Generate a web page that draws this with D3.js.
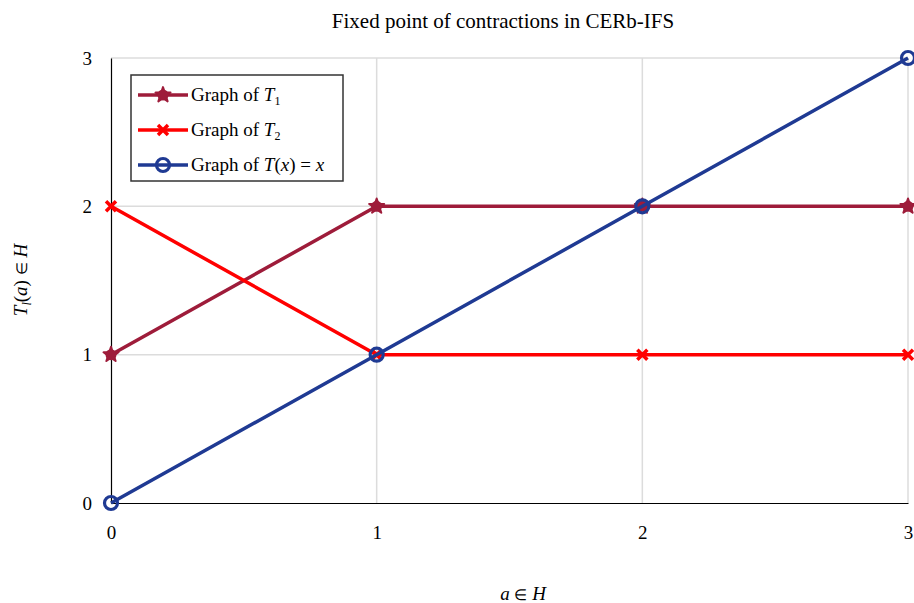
<!DOCTYPE html>
<html>
<head>
<meta charset="utf-8">
<script src="https://cdn.jsdelivr.net/npm/d3@7"></script>
<style>
  body { margin: 0; background: #fff; }
  text { font-family: "Liberation Serif", "Times New Roman", serif; fill: #000; }
</style>
</head>
<body>
<svg width="914" height="603"></svg>
<script>
// data
var xValues = [0, 1, 2, 3];
var t1Values = [1, 2, 2, 2];
var t2Values = [2, 1, 1, 1];
var idValues = [0, 1, 2, 3];
var xTicks = [0, 1, 2, 3];
var yTicks = [0, 1, 2, 3];

var svg = d3.select("svg"),
    margin = {left: 111, right: 6, top: 58, bottom: 100},
    width = 914 - margin.left - margin.right,
    height = 603 - margin.top - margin.bottom;

var x = d3.scaleLinear().domain([0, 3]).range([margin.left, margin.left + width]);
var y = d3.scaleLinear().domain([0, 3]).range([margin.top + height, margin.top]);

// grid
svg.append("g").selectAll("line")
    .data(xTicks.slice(1))
    .enter().append("line")
    .attr("x1", d => x(d)).attr("x2", d => x(d))
    .attr("y1", y(0)).attr("y2", y(3))
    .style("stroke", "#dcdcdc").style("stroke-width", 1.5);

svg.append("g").selectAll("line")
    .data(yTicks.slice(1))
    .enter().append("line")
    .attr("x1", x(0)).attr("x2", x(3))
    .attr("y1", d => y(d)).attr("y2", d => y(d))
    .style("stroke", "#dcdcdc").style("stroke-width", 1.5);

// axes
var xAxis = svg.append("g")
    .attr("transform", "translate(0," + y(0) + ")")
    .call(d3.axisBottom(x).tickValues(xTicks).tickSize(0).tickPadding(23).tickFormat(d3.format("d")));
var yAxis = svg.append("g")
    .attr("transform", "translate(" + x(0) + ",0)")
    .call(d3.axisLeft(y).tickValues(yTicks).tickSize(0).tickPadding(19).tickFormat(d3.format("d")));

[xAxis, yAxis].forEach(function(a) {
    a.select(".domain").style("stroke", "#000").style("stroke-width", 1.2);
    a.selectAll("text").style("font-size", "19px").style("font-family", "'Liberation Serif', serif");
});

// series
var series = [
    {name: "t1", values: t1Values, color: "#9e1c3a", marker: "burst"},
    {name: "t2", values: t2Values, color: "#ff0000", marker: "x"},
    {name: "id", values: idValues, color: "#1f3a93", marker: "circle"}
];

var line = d3.line()
    .x((d, i) => x(xValues[i]))
    .y(d => y(d));

function drawMarker(g, type, color) {
    if (type === "burst") {
        g.append("path")
            .attr("d", d3.symbol().type(d3.symbolStar).size(70))
            .style("fill", color).style("stroke", color).style("stroke-width", 2).style("stroke-linejoin", "round");
        g.append("circle").attr("r", 5.5).style("fill", color);
    } else if (type === "x") {
        g.append("path")
            .attr("d", "M-5,-5L5,5M-5,5L5,-5")
            .style("stroke", color).style("stroke-width", 3.5).style("fill", "none");
    } else {
        g.append("circle").attr("r", 6.5)
            .style("fill", "none").style("stroke", color).style("stroke-width", 3.2);
    }
}

series.forEach(function(s) {
    svg.append("path")
        .datum(s.values)
        .attr("d", line)
        .style("fill", "none")
        .style("stroke", s.color)
        .style("stroke-width", 3.5);

    s.values.forEach(function(v, i) {
        var g = svg.append("g").attr("transform", "translate(" + x(xValues[i]) + "," + y(v) + ")");
        drawMarker(g, s.marker, s.color);
    });
});

// title
svg.append("text")
    .attr("x", 503).attr("y", 28)
    .attr("text-anchor", "middle")
    .style("font-size", "21px")
    .text("Fixed point of contractions in CERb-IFS");

// axis titles
var xt = svg.append("text")
    .attr("x", 523).attr("y", 600)
    .attr("text-anchor", "middle")
    .style("font-size", "19px");
xt.append("tspan").style("font-style", "italic").text("a");
xt.append("tspan").text(" ");
xt.append("tspan").style("font-size", "15px").text("\u2208");
xt.append("tspan").text(" ");
xt.append("tspan").style("font-style", "italic").text("H");

var yt = svg.append("text")
    .attr("transform", "translate(27,280) rotate(-90)")
    .attr("text-anchor", "middle")
    .style("font-size", "19px");
yt.append("tspan").style("font-style", "italic").text("T");
yt.append("tspan").style("font-style", "italic").style("font-size", "12px").attr("dy", 4).text("l");
yt.append("tspan").attr("dy", -4).text("(");
yt.append("tspan").style("font-style", "italic").text("a");
yt.append("tspan").text(") ");
yt.append("tspan").style("font-size", "15px").text("\u2208");
yt.append("tspan").text(" ");
yt.append("tspan").style("font-style", "italic").text("H");

// legend
var legend = svg.append("g").attr("transform", "translate(131,75)");
legend.append("rect")
    .attr("width", 212).attr("height", 106)
    .style("fill", "#fff").style("stroke", "#333").style("stroke-width", 1.5);

var legendRows = [
    {color: "#9e1c3a", marker: "burst", label: [["Graph of ", ""], ["T", "i"], ["1", "sub"]]},
    {color: "#ff0000", marker: "x", label: [["Graph of ", ""], ["T", "i"], ["2", "sub"]]},
    {color: "#1f3a93", marker: "circle", label: [["Graph of ", ""], ["T", "i"], ["(", ""], ["x", "i"], [") = ", ""], ["x", "i"]]}
];

legendRows.forEach(function(r, i) {
    var cy = 20 + i * 35;
    legend.append("line")
        .attr("x1", 7).attr("x2", 57).attr("y1", cy).attr("y2", cy)
        .style("stroke", r.color).style("stroke-width", 3.5);
    var g = legend.append("g").attr("transform", "translate(32," + cy + ")");
    drawMarker(g, r.marker, r.color);
    var t = legend.append("text").attr("x", 60).attr("y", cy + 6).style("font-size", "19px");
    r.label.forEach(function(p) {
        var ts = t.append("tspan").text(p[0]);
        if (p[1] === "i") ts.style("font-style", "italic");
        if (p[1] === "sub") ts.style("font-size", "12px").attr("dy", 4);
    });
});
</script>
</body>
</html>
